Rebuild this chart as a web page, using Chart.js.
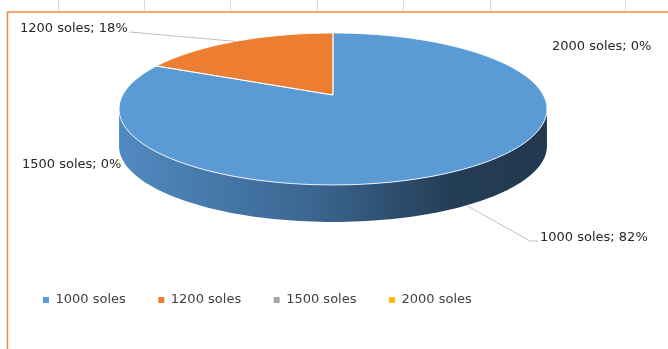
<!DOCTYPE html>
<html><head><meta charset="utf-8">
<script src="https://cdn.jsdelivr.net/npm/chart.js@4"></script>
<style>html,body{margin:0;padding:0;background:#fff;overflow:hidden}canvas{display:block}</style>
</head><body>
<canvas id="c" width="668" height="349"></canvas>
<script>
// ---- data ----
const categories = ['1000 soles', '1200 soles', '1500 soles', '2000 soles'];
const values = [82, 18, 0, 0];

// ---- style / layout ----
const colors = ['#5B9BD5', '#ED7D31', '#A5A5A5', '#FFC000'];
const labelPos = [[540, 238], [20, 29], [22, 165], [552, 47]]; // text left, middle
// perspective view of the pie's top face
const TX = 333, TY = 95, KX = 210.3, KY = 73.4, PERSP = -0.184, DEPTH = 37;
const FONT = '13px "DejaVu Sans"';
const sheetCols = [58, 144, 230, 317, 403, 490, 625];

function project(a, x, y) {
  const u = (x - a.x) / a.outerRadius, v = (y - a.y) / a.outerRadius;
  const d = 1 + PERSP * v;
  return [TX + KX * u / d, TY + KY * v / d];
}
// temporarily make the context draw in the projected (tilted) plane
function patch(ctx, a) {
  const P = CanvasRenderingContext2D.prototype;
  ctx.lineTo = (x, y) => { const p = project(a, x, y); P.lineTo.call(ctx, p[0], p[1]); };
  ctx.moveTo = (x, y) => { const p = project(a, x, y); P.moveTo.call(ctx, p[0], p[1]); };
  ctx.arc = (x, y, r, s, e, ccw) => {
    if (!ccw) { while (e < s) e += 2 * Math.PI; } else { while (e > s) e -= 2 * Math.PI; }
    const n = Math.max(2, Math.ceil(Math.abs(e - s) / (Math.PI / 120)));
    for (let i = 0; i <= n; i++) {
      const t = s + (e - s) * i / n;
      const p = project(a, x + r * Math.cos(t), y + r * Math.sin(t));
      P.lineTo.call(ctx, p[0], p[1]);
    }
  };
}
function unpatch(ctx) { delete ctx.lineTo; delete ctx.moveTo; delete ctx.arc; }
function arcPath(ctx, a) {
  ctx.beginPath();
  ctx.moveTo(a.x, a.y);
  ctx.arc(a.x, a.y, a.outerRadius, a.startAngle, a.endAngle);
  ctx.closePath();
}

const pie3d = {
  id: 'pie3d',
  beforeDraw(chart) {
    const ctx = chart.ctx;
    ctx.save();
    ctx.strokeStyle = '#D9D9D9';
    ctx.lineWidth = 1;
    sheetCols.forEach(x => { ctx.beginPath(); ctx.moveTo(x + 0.5, 0); ctx.lineTo(x + 0.5, 11); ctx.stroke(); });
    ctx.strokeStyle = '#F0883A';
    ctx.lineWidth = 1.5;
    ctx.beginPath();
    ctx.moveTo(7.5, 349); ctx.lineTo(7.5, 12); ctx.lineTo(668, 12);
    ctx.stroke();
    ctx.restore();
  },
  beforeDatasetsDraw(chart) {
    const ctx = chart.ctx;
    const arcs = chart.getDatasetMeta(0).data;
    const g = ctx.createLinearGradient(TX - KX, 0, TX + KX, 0);
    g.addColorStop(0, '#5089C0');
    g.addColorStop(0.45, '#3B6690');
    g.addColorStop(0.78, '#243D57');
    g.addColorStop(1, '#22394F');
    // visible rim of the side: between the two horizontal extremes
    const t1 = Math.asin(-PERSP), t2 = Math.PI - t1;
    arcs.forEach(a => {
      let s = a.startAngle, e = a.endAngle;
      const s2 = Math.max(s, t1), e2 = Math.min(e, t2);
      const s3 = Math.max(s, t1 + 2 * Math.PI), e3 = Math.min(e, t2 + 2 * Math.PI);
      [[s2, e2], [s3, e3]].forEach(([ss, ee]) => {
        if (ee <= ss) return;
        const n = Math.ceil((ee - ss) / (Math.PI / 120));
        const pts = [];
        for (let i = 0; i <= n; i++) {
          const t = ss + (ee - ss) * i / n;
          pts.push(project(a, a.x + a.outerRadius * Math.cos(t), a.y + a.outerRadius * Math.sin(t)));
        }
        ctx.beginPath();
        pts.forEach(p => ctx.lineTo(p[0], p[1]));
        for (let i = pts.length - 1; i >= 0; i--) ctx.lineTo(pts[i][0], pts[i][1] + DEPTH);
        ctx.closePath();
        ctx.fillStyle = g;
        ctx.fill();
      });
    });
    patch(ctx, arcs[0]);
  },
  afterDatasetsDraw(chart) {
    const ctx = chart.ctx;
    unpatch(ctx);
    const arcs = chart.getDatasetMeta(0).data;
    arcs.forEach(a => {
      if (a.endAngle - a.startAngle <= 0) return;
      patch(ctx, a);
      arcPath(ctx, a);
      unpatch(ctx);
      ctx.save();
      ctx.strokeStyle = 'rgba(255,255,255,0.85)';
      ctx.lineWidth = 1;
      ctx.stroke();
      ctx.restore();
    });
  },
  afterDraw(chart) {
    const ctx = chart.ctx;
    const arcs = chart.getDatasetMeta(0).data;
    const total = values.reduce((s, v) => s + v, 0);
    ctx.save();
    ctx.font = FONT;
    ctx.textBaseline = 'middle';
    ctx.fillStyle = '#262626';
    arcs.forEach((a, i) => {
      const pct = Math.round(values[i] / total * 100);
      const txt = categories[i] + '; ' + pct + '%';
      const [lx, ly] = labelPos[i];
      ctx.fillText(txt, lx, ly);
      if (values[i] > 0) {
        const m = (a.startAngle + a.endAngle) / 2;
        let [px, py] = project(a, a.x + a.outerRadius * Math.cos(m), a.y + a.outerRadius * Math.sin(m));
        if (Math.sin(m) > 0) py += DEPTH;
        ctx.save();
        ctx.strokeStyle = '#BFBFBF';
        ctx.lineWidth = 1;
        ctx.beginPath();
        const w = ctx.measureText(txt).width;
        if (lx > px) {
          ctx.moveTo(px, py);
          ctx.lineTo(lx - 10, ly + 3);
          ctx.lineTo(lx - 2, ly + 3);
        } else {
          ctx.moveTo(lx + w + 2, ly + 3);
          ctx.lineTo(px, py);
        }
        ctx.stroke();
        ctx.restore();
      }
    });
    ctx.restore();
  }
};

new Chart(document.getElementById('c'), {
  type: 'pie',
  data: {
    labels: categories,
    datasets: [{
      data: values,
      backgroundColor: colors,
      borderWidth: 0,
      clip: false
    }]
  },
  options: {
    responsive: false,
    animation: false,
    events: [],
    layout: { padding: { left: 10.5, right: 10, top: 20, bottom: 32.5 } },
    plugins: {
      tooltip: { enabled: false },
      legend: {
        position: 'bottom',
        align: 'start',
        labels: {
          boxWidth: 6, boxHeight: 6, padding: 32.5,
          color: '#404040',
          font: { family: 'DejaVu Sans', size: 13 }
        }
      }
    }
  },
  plugins: [pie3d]
});
</script>
</body></html>
